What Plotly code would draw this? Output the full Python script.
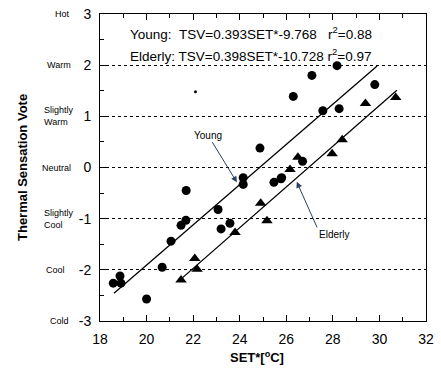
import plotly.graph_objects as go

# Data
young_x = [18.57, 18.86, 18.9, 20.0, 20.67, 21.05, 21.48, 21.69, 21.7, 23.07, 23.2, 23.58,
           24.15, 24.15, 24.87, 25.47, 25.77, 25.8, 26.3, 26.7, 27.1, 27.57, 28.18, 28.27, 29.8]
young_y = [-2.26, -2.12, -2.26, -2.57, -1.95, -1.44, -1.13, -1.03, -0.45, -0.82, -1.2, -1.09,
           -0.2, -0.33, 0.38, -0.29, -0.22, -0.2, 1.39, 0.12, 1.8, 1.11, 1.99, 1.15, 1.62]
elderly_x = [21.48, 22.07, 22.17, 23.8, 24.9, 25.17, 26.16, 26.5, 27.97, 28.4, 29.4, 30.7]
elderly_y = [-2.2, -1.78, -1.99, -1.27, -0.7, -1.04, -0.04, 0.2, 0.27, 0.54, 1.25, 1.37]
stray_x = [22.1]
stray_y = [1.48]

young_fit = (0.393, -9.768)
elderly_fit = (0.398, -10.728)
young_range = [18.6, 29.9]
elderly_range = [21.4, 30.75]

y_ticks = [3, 2, 1, 0, -1, -2, -3]
y_words = ["Hot", "Warm", "Slightly<br>Warm", "Neutral", "Slightly<br>Cool", "Cool", "Cold"]
x_ticks = [18, 20, 22, 24, 26, 28, 30, 32]

FONT = "Liberation Sans, Arial, sans-serif"
W, H = 441, 373
ML, MR, MT, MB = 100, 15, 14, 52
PW = W - ML - MR
PH = H - MT - MB

fig = go.Figure()
fig.add_trace(go.Scatter(x=young_x, y=young_y, mode="markers",
                         marker=dict(symbol="circle", size=9, color="black"), showlegend=False))
fig.add_trace(go.Scatter(x=elderly_x, y=elderly_y, mode="markers",
                         marker=dict(symbol="triangle-up", size=10, color="black"), showlegend=False))
fig.add_trace(go.Scatter(x=stray_x, y=stray_y, mode="markers",
                         marker=dict(symbol="circle", size=3, color="black"), showlegend=False))
fig.add_trace(go.Scatter(x=young_range, y=[young_fit[0] * v + young_fit[1] for v in young_range],
                         mode="lines", line=dict(color="black", width=1.3), showlegend=False))
fig.add_trace(go.Scatter(x=elderly_range, y=[elderly_fit[0] * v + elderly_fit[1] for v in elderly_range],
                         mode="lines", line=dict(color="black", width=1.3), showlegend=False))

fig.update_layout(
    width=W, height=H,
    margin=dict(l=ML, r=MR, t=MT, b=MB, autoexpand=False),
    paper_bgcolor="white", plot_bgcolor="white",
    font=dict(family=FONT, color="black"),
    showlegend=False,
)
fig.update_xaxes(range=[18, 32], tickvals=x_ticks, ticktext=[str(v) for v in x_ticks],
                 ticks="inside", ticklen=6, tickcolor="black", tickwidth=1,
                 minor=dict(dtick=1, ticks="inside", ticklen=4, tickcolor="black", showgrid=False),
                 showline=True, linecolor="black", linewidth=1, mirror="ticks",
                 showgrid=False, zeroline=False, tickfont=dict(size=14, family=FONT),
                 ticklabelstandoff=5, automargin=False)
fig.update_yaxes(range=[-3, 3], tickvals=y_ticks, ticktext=[str(v) for v in y_ticks],
                 ticks="inside", ticklen=6, tickcolor="black", tickwidth=1,
                 minor=dict(dtick=0.5, ticks="inside", ticklen=4, tickcolor="black", showgrid=False),
                 showline=True, linecolor="black", linewidth=1, mirror=True,
                 showgrid=True, gridcolor="black", gridwidth=1, griddash="dot",
                 zeroline=False, tickfont=dict(size=14, family=FONT), ticklabelstandoff=5,
                 automargin=False)

def px_to_paper_x(px):
    return (px - ML) / PW

def px_to_paper_y(py):
    return (H - MB - py) / PH

# Category words next to y ticks
word_x = [53, 45, 42, 40, 42, 44, 48]
for v, w, wx in zip(y_ticks, y_words, word_x):
    fig.add_annotation(x=px_to_paper_x(wx), xref="paper", y=v, yref="y", text=w,
                       showarrow=False, xanchor="left", yanchor="middle", align="left",
                       font=dict(size=9, family=FONT))

# Equations
fig.add_annotation(x=px_to_paper_x(128), xref="paper", y=px_to_paper_y(33), yref="paper",
                   text="Young:&nbsp;&nbsp;TSV=0.393SET*-9.768&nbsp;&nbsp;&nbsp;r<sup>2</sup>=0.88",
                   showarrow=False, xanchor="left", yanchor="middle",
                   font=dict(size=13.5, family=FONT))
fig.add_annotation(x=px_to_paper_x(128), xref="paper", y=px_to_paper_y(55), yref="paper",
                   text="Elderly: TSV=0.398SET*-10.728 r<sup>2</sup>=0.97", showarrow=False,
                   xanchor="left", yanchor="middle", font=dict(size=13.5, family=FONT))

# Line labels with arrows
fig.add_annotation(x=23.88, y=-0.29, ax=22.64, ay=0.63, axref="x", ayref="y",
                   text="Young", showarrow=True, arrowhead=2, arrowsize=1.2, arrowwidth=1,
                   standoff=0, font=dict(size=10, family=FONT))
fig.add_annotation(x=26.45, y=-0.28, ax=27.32, ay=-1.17, axref="x", ayref="y",
                   text="Elderly", showarrow=True, arrowhead=2, arrowsize=1.2, arrowwidth=1,
                   standoff=0, xanchor="left", yanchor="top", font=dict(size=10, family=FONT))

# Axis titles
fig.add_annotation(x=px_to_paper_x(22), xref="paper", y=px_to_paper_y(168), yref="paper",
                   text="<b>Thermal Sensation Vote</b>", showarrow=False, textangle=-90,
                   xanchor="center", yanchor="middle", font=dict(size=13, family=FONT))
fig.add_annotation(x=px_to_paper_x(257), xref="paper", y=px_to_paper_y(357), yref="paper",
                   text="<b>SET*[<sup>o</sup>C]</b>", showarrow=False,
                   xanchor="center", yanchor="middle", font=dict(size=13, family=FONT))

fig.write_html("out.html")
